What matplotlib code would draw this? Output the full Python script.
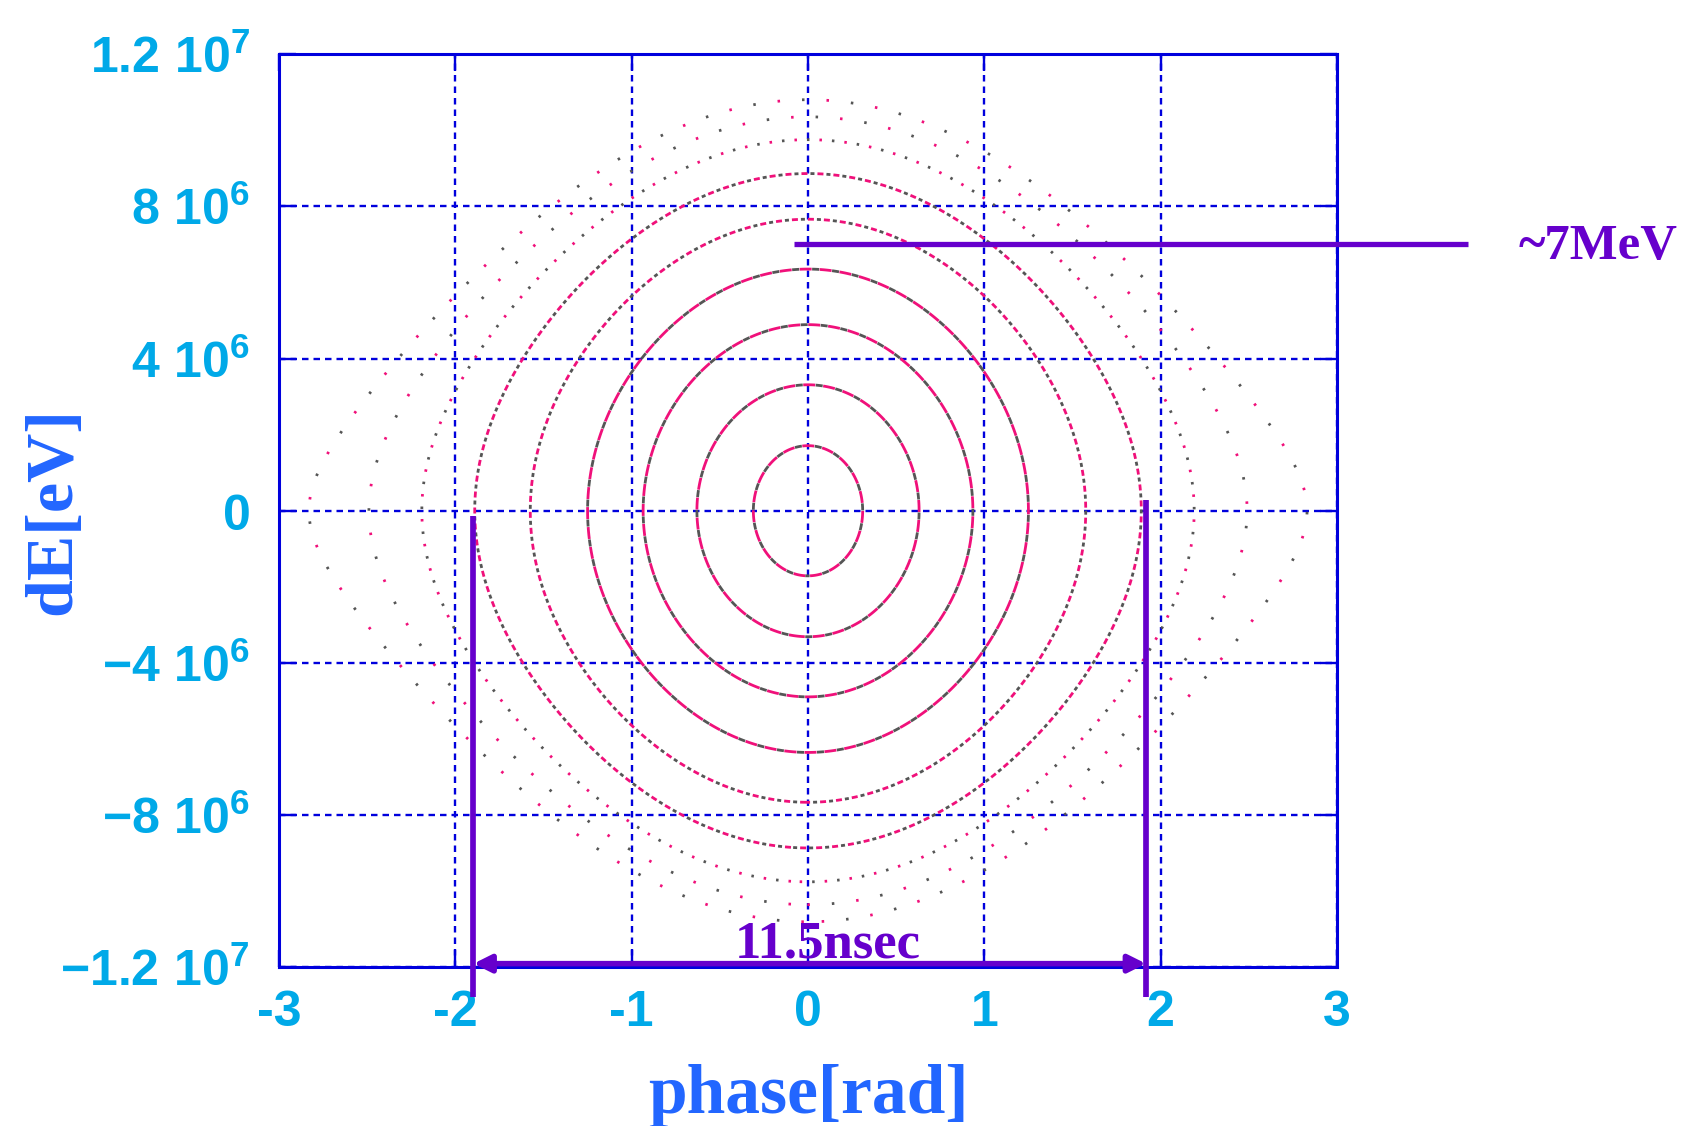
import numpy as np
import matplotlib
matplotlib.use("Agg")
import matplotlib.pyplot as plt

# ---------------- data ----------------
# half-width (phase, rad) and half-height (dE, eV) of each closed orbit
ring_phase_amp = [0.31, 0.63, 0.935, 1.25, 1.575, 1.89, 2.19, 2.49, 2.83]
ring_dE_amp = [1.71e6, 3.31e6, 4.89e6, 6.35e6, 7.66e6, 8.86e6, 9.75e6, 10.35e6, 10.8e6]
ring_density = ["dense", "dense", "dense", "dense", "medium", "medium",
                "sparse", "very_sparse", "very_sparse"]

x_ticks = [-3, -2, -1, 0, 1, 2, 3]
x_tick_labels = ["-3", "-2", "-1", "0", "1", "2", "3"]
y_ticks = [-1.2e7, -8e6, -4e6, 0, 4e6, 8e6, 1.2e7]
y_tick_labels = [r"$\mathbf{-1.2\ 10^{7}}$", r"$\mathbf{-8\ 10^{6}}$",
                 r"$\mathbf{-4\ 10^{6}}$", r"$\mathbf{0}$",
                 r"$\mathbf{4\ 10^{6}}$", r"$\mathbf{8\ 10^{6}}$",
                 r"$\mathbf{1.2\ 10^{7}}$"]

energy_level = 7e6
energy_line_x = [-0.08, 3.74]
energy_text = "~7MeV"
width_phase = [-1.897, 1.917]
width_line_top = [-0.13e6, 0.29e6]
width_line_bottom = -12.77e6
arrow_dE = -11.9e6
width_text = "11.5nsec"

# ---------------- style ----------------
plt.rcParams["lines.scale_dashes"] = False
plt.rcParams["mathtext.fontset"] = "custom"
plt.rcParams["mathtext.rm"] = "Liberation Sans:bold"
plt.rcParams["mathtext.bf"] = "Liberation Sans:bold"
plt.rcParams["mathtext.it"] = "Liberation Sans:bold"

BLUE = "#0000dd"
CYAN = "#00a9e8"
LABEL_BLUE = "#2266ff"
PURPLE = "#6600cc"
MAGENTA = "#f0107a"
GRAY = "#555555"
PX = 0.72  # points per pixel at dpi 100

fig = plt.figure(figsize=(16.95, 11.26), dpi=100)
ax = fig.add_axes([0.1646, 0.1408, 0.7888 - 0.1646, 0.952 - 0.1408])
ax.set_xlim(-3, 3)
ax.set_ylim(-1.2e7, 1.2e7)

# ---------------- rings ----------------
phase = np.linspace(-3, 3, 1400)
dE = np.linspace(-1.2e7, 1.2e7, 1400)
P, E = np.meshgrid(phase, dE)

patterns = {  # magenta on, gap, gray on, gap  (pixels)
    "dense": (12, 0.5, 7, 0.5),
    "medium": (6, 3, 4, 3),
    "sparse": (2.5, 10, 2.5, 10),
    "very_sparse": (2.5, 22, 2.5, 22),
}
ring_lw = 2.0
for a, b, dens in zip(ring_phase_amp, ring_dE_amp, ring_density):
    H = (1 - np.cos(P)) / (1 - np.cos(a)) + (E / b) ** 2
    m_on, g1, g_on, g2 = [v * PX for v in patterns[dens]]
    period = m_on + g1 + g_on + g2
    ls_m = (0, (m_on, period - m_on))
    ls_g = (period - (m_on + g1), (g_on, period - g_on))
    ax.contour(P, E, H, levels=[1.0], colors=[MAGENTA], linewidths=ring_lw,
               linestyles=[ls_m], zorder=3)
    ax.contour(P, E, H, levels=[1.0], colors=[GRAY], linewidths=ring_lw,
               linestyles=[ls_g], zorder=3)

# ---------------- axes styling ----------------
ax.set_xticks(x_ticks, x_tick_labels)
ax.set_yticks(y_ticks, y_tick_labels)
ax.grid(True, color=BLUE, lw=1.7, linestyle=(0, (6.5 * PX, 5 * PX)), zorder=1)
ax.set_axisbelow(True)
for s in ax.spines.values():
    s.set_color(BLUE)
    s.set_linewidth(2.2)
ax.tick_params(direction="in", length=12, width=1.7, color=BLUE,
               top=True, right=True, labelcolor=CYAN, labelsize=36)
ax.tick_params(axis="y", pad=21)
ax.tick_params(axis="x", pad=16)
for lbl in ax.get_xticklabels():
    lbl.set_fontfamily("Liberation Sans")
    lbl.set_fontweight("bold")

ax.set_xlabel("phase[rad]", fontsize=50, fontfamily="Liberation Serif",
              fontweight="bold", color=LABEL_BLUE)
ax.xaxis.set_label_coords(0.5, -0.159)
ax.xaxis.label.set_va("baseline")
ax.set_ylabel("dE[eV]", fontsize=49, fontfamily="Liberation Serif",
              fontweight="bold", color=LABEL_BLUE)
ax.yaxis.set_label_coords(-0.197, 0.5)
ax.yaxis.label.set_rotation_mode("anchor")
ax.yaxis.label.set_va("baseline")
ax.yaxis.label.set_ha("center")

# ---------------- annotations ----------------
ax.plot(energy_line_x, [energy_level, energy_level], color=PURPLE, lw=3.8,
        solid_capstyle="butt", clip_on=False, zorder=5)
ax.text(4.03, 6.61e6, energy_text, color=PURPLE, fontsize=36.5,
        fontfamily="Liberation Serif", fontweight="bold",
        ha="left", va="baseline", clip_on=False)
for xp, top in zip(width_phase, width_line_top):
    ax.plot([xp, xp], [top, width_line_bottom], color=PURPLE, lw=4.1,
            solid_capstyle="butt", clip_on=False, zorder=5)
ax.annotate("", xy=(width_phase[0], arrow_dE), xytext=(width_phase[1], arrow_dE),
            arrowprops=dict(arrowstyle="<|-|>", color=PURPLE, lw=4,
                            mutation_scale=26, shrinkA=0, shrinkB=0),
            annotation_clip=False, zorder=5)
ax.text(0.113, -11.75e6, width_text, color=PURPLE, fontsize=38,
        fontfamily="Liberation Serif", fontweight="bold",
        ha="center", va="baseline", clip_on=False, zorder=6)

fig.savefig("out.png", dpi=100, facecolor="white")
